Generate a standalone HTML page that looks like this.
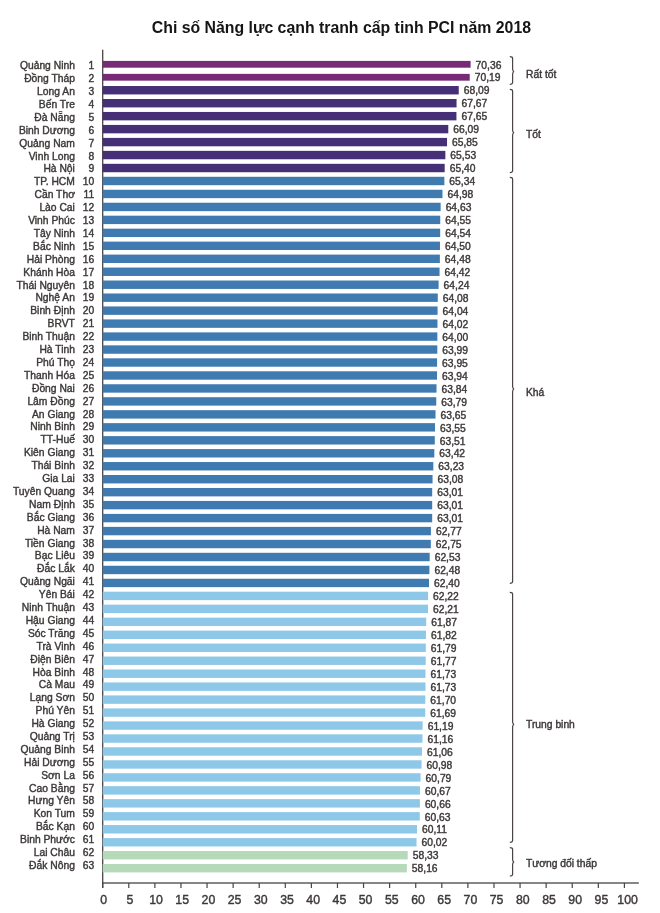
<!DOCTYPE html><html><head><meta charset="utf-8"><style>html,body{margin:0;padding:0;background:#fff;width:660px;height:913px;overflow:hidden}svg{display:block;filter:blur(0.5px)}text{font-family:"Liberation Sans",sans-serif}</style></head><body>
<svg width="660" height="913" viewBox="0 0 660 913">
<rect width="660" height="913" fill="#fff"/>
<text x="151.8" y="32.5" font-size="16" font-weight="bold" fill="#161414" textLength="379.2" lengthAdjust="spacingAndGlyphs">Chi số Năng lực cạnh tranh cấp tinh PCI năm 2018</text>
<rect x="102.05" y="49.7" width="1.3" height="838.30" fill="#4a4444"/>
<rect x="102.05" y="882.35" width="536.80" height="1.3" fill="#4a4444"/>
<rect x="102.7" y="60.90" width="367.91" height="6.8" fill="#772B76"/><rect x="102.7" y="73.87" width="367.02" height="6.8" fill="#772B76"/><rect x="102.7" y="86.03" width="356.04" height="8.4" fill="#452F76"/><rect x="102.7" y="99.00" width="353.85" height="8.4" fill="#452F76"/><rect x="102.7" y="111.96" width="353.74" height="8.4" fill="#452F76"/><rect x="102.7" y="124.93" width="345.58" height="8.4" fill="#452F76"/><rect x="102.7" y="137.90" width="344.33" height="8.4" fill="#452F76"/><rect x="102.7" y="150.86" width="342.66" height="8.4" fill="#452F76"/><rect x="102.7" y="163.83" width="341.98" height="8.4" fill="#452F76"/><rect x="102.7" y="176.79" width="341.66" height="8.4" fill="#3F7AB0"/><rect x="102.7" y="189.76" width="339.78" height="8.4" fill="#3F7AB0"/><rect x="102.7" y="202.73" width="337.95" height="8.4" fill="#3F7AB0"/><rect x="102.7" y="215.69" width="337.53" height="8.4" fill="#3F7AB0"/><rect x="102.7" y="228.66" width="337.48" height="8.4" fill="#3F7AB0"/><rect x="102.7" y="241.62" width="337.27" height="8.4" fill="#3F7AB0"/><rect x="102.7" y="254.59" width="337.17" height="8.4" fill="#3F7AB0"/><rect x="102.7" y="267.56" width="336.85" height="8.4" fill="#3F7AB0"/><rect x="102.7" y="280.52" width="335.91" height="8.4" fill="#3F7AB0"/><rect x="102.7" y="293.49" width="335.07" height="8.4" fill="#3F7AB0"/><rect x="102.7" y="306.45" width="334.87" height="8.4" fill="#3F7AB0"/><rect x="102.7" y="319.42" width="334.76" height="8.4" fill="#3F7AB0"/><rect x="102.7" y="332.39" width="334.66" height="8.4" fill="#3F7AB0"/><rect x="102.7" y="345.35" width="334.60" height="8.4" fill="#3F7AB0"/><rect x="102.7" y="358.32" width="334.39" height="8.4" fill="#3F7AB0"/><rect x="102.7" y="371.28" width="334.34" height="8.4" fill="#3F7AB0"/><rect x="102.7" y="384.25" width="333.82" height="8.4" fill="#3F7AB0"/><rect x="102.7" y="397.22" width="333.56" height="8.4" fill="#3F7AB0"/><rect x="102.7" y="410.18" width="332.83" height="8.4" fill="#3F7AB0"/><rect x="102.7" y="423.15" width="332.30" height="8.4" fill="#3F7AB0"/><rect x="102.7" y="436.11" width="332.09" height="8.4" fill="#3F7AB0"/><rect x="102.7" y="449.08" width="331.62" height="8.4" fill="#3F7AB0"/><rect x="102.7" y="462.05" width="330.63" height="8.4" fill="#3F7AB0"/><rect x="102.7" y="475.01" width="329.85" height="8.4" fill="#3F7AB0"/><rect x="102.7" y="487.98" width="329.48" height="8.4" fill="#3F7AB0"/><rect x="102.7" y="500.94" width="329.48" height="8.4" fill="#3F7AB0"/><rect x="102.7" y="513.91" width="329.48" height="8.4" fill="#3F7AB0"/><rect x="102.7" y="526.88" width="328.22" height="8.4" fill="#3F7AB0"/><rect x="102.7" y="539.84" width="328.12" height="8.4" fill="#3F7AB0"/><rect x="102.7" y="552.81" width="326.97" height="8.4" fill="#3F7AB0"/><rect x="102.7" y="565.77" width="326.71" height="8.4" fill="#3F7AB0"/><rect x="102.7" y="578.74" width="326.29" height="8.4" fill="#3F7AB0"/><rect x="102.7" y="591.71" width="325.35" height="8.4" fill="#8DC8E8"/><rect x="102.7" y="604.67" width="325.30" height="8.4" fill="#8DC8E8"/><rect x="102.7" y="617.64" width="323.52" height="8.4" fill="#8DC8E8"/><rect x="102.7" y="630.60" width="323.26" height="8.4" fill="#8DC8E8"/><rect x="102.7" y="643.57" width="323.10" height="8.4" fill="#8DC8E8"/><rect x="102.7" y="656.54" width="323.00" height="8.4" fill="#8DC8E8"/><rect x="102.7" y="669.50" width="322.79" height="8.4" fill="#8DC8E8"/><rect x="102.7" y="682.47" width="322.79" height="8.4" fill="#8DC8E8"/><rect x="102.7" y="695.43" width="322.63" height="8.4" fill="#8DC8E8"/><rect x="102.7" y="708.40" width="322.58" height="8.4" fill="#8DC8E8"/><rect x="102.7" y="721.37" width="319.96" height="8.4" fill="#8DC8E8"/><rect x="102.7" y="734.33" width="319.81" height="8.4" fill="#8DC8E8"/><rect x="102.7" y="747.30" width="319.28" height="8.4" fill="#8DC8E8"/><rect x="102.7" y="760.26" width="318.86" height="8.4" fill="#8DC8E8"/><rect x="102.7" y="773.23" width="317.87" height="8.4" fill="#8DC8E8"/><rect x="102.7" y="786.20" width="317.24" height="8.4" fill="#8DC8E8"/><rect x="102.7" y="799.16" width="317.19" height="8.4" fill="#8DC8E8"/><rect x="102.7" y="812.13" width="317.03" height="8.4" fill="#8DC8E8"/><rect x="102.7" y="825.09" width="314.32" height="8.4" fill="#8DC8E8"/><rect x="102.7" y="838.06" width="313.84" height="8.4" fill="#8DC8E8"/><rect x="102.7" y="851.03" width="305.01" height="8.4" fill="#B5D9B9"/><rect x="102.7" y="863.99" width="304.12" height="8.4" fill="#B5D9B9"/>
<g font-size="10.3" fill="#3d3838" stroke="#3d3838" stroke-width="0.4"><text x="74.9" y="69.30" text-anchor="end">Quảng Ninh</text><text x="94.2" y="69.30" text-anchor="end">1</text><text x="475.61" y="68.50">70,36</text><text x="74.9" y="82.20" text-anchor="end">Đồng Tháp</text><text x="94.2" y="82.20" text-anchor="end">2</text><text x="474.72" y="81.47">70,19</text><text x="74.9" y="95.10" text-anchor="end">Long An</text><text x="94.2" y="95.10" text-anchor="end">3</text><text x="463.74" y="94.43">68,09</text><text x="74.9" y="107.99" text-anchor="end">Bến Tre</text><text x="94.2" y="107.99" text-anchor="end">4</text><text x="461.55" y="107.40">67,67</text><text x="74.9" y="120.89" text-anchor="end">Đà Nẵng</text><text x="94.2" y="120.89" text-anchor="end">5</text><text x="461.44" y="120.36">67,65</text><text x="74.9" y="133.79" text-anchor="end">Binh Dương</text><text x="94.2" y="133.79" text-anchor="end">6</text><text x="453.28" y="133.33">66,09</text><text x="74.9" y="146.69" text-anchor="end">Quảng Nam</text><text x="94.2" y="146.69" text-anchor="end">7</text><text x="452.03" y="146.30">65,85</text><text x="74.9" y="159.59" text-anchor="end">Vinh Long</text><text x="94.2" y="159.59" text-anchor="end">8</text><text x="450.36" y="159.26">65,53</text><text x="74.9" y="172.48" text-anchor="end">Hà Nội</text><text x="94.2" y="172.48" text-anchor="end">9</text><text x="449.68" y="172.23">65,40</text><text x="74.9" y="185.38" text-anchor="end">TP. HCM</text><text x="94.2" y="185.38" text-anchor="end">10</text><text x="449.36" y="185.19">65,34</text><text x="74.9" y="198.28" text-anchor="end">Cần Thơ</text><text x="94.2" y="198.28" text-anchor="end">11</text><text x="447.48" y="198.16">64,98</text><text x="74.9" y="211.18" text-anchor="end">Lào Cai</text><text x="94.2" y="211.18" text-anchor="end">12</text><text x="445.65" y="211.13">64,63</text><text x="74.9" y="224.08" text-anchor="end">Vinh Phúc</text><text x="94.2" y="224.08" text-anchor="end">13</text><text x="445.23" y="224.09">64,55</text><text x="74.9" y="236.97" text-anchor="end">Tây Ninh</text><text x="94.2" y="236.97" text-anchor="end">14</text><text x="445.18" y="237.06">64,54</text><text x="74.9" y="249.87" text-anchor="end">Bắc Ninh</text><text x="94.2" y="249.87" text-anchor="end">15</text><text x="444.97" y="250.02">64,50</text><text x="74.9" y="262.77" text-anchor="end">Hải Phòng</text><text x="94.2" y="262.77" text-anchor="end">16</text><text x="444.87" y="262.99">64,48</text><text x="74.9" y="275.67" text-anchor="end">Khánh Hòa</text><text x="94.2" y="275.67" text-anchor="end">17</text><text x="444.55" y="275.96">64,42</text><text x="74.9" y="288.57" text-anchor="end">Thái Nguyên</text><text x="94.2" y="288.57" text-anchor="end">18</text><text x="443.61" y="288.92">64,24</text><text x="74.9" y="301.46" text-anchor="end">Nghệ An</text><text x="94.2" y="301.46" text-anchor="end">19</text><text x="442.77" y="301.89">64,08</text><text x="74.9" y="314.36" text-anchor="end">Binh Định</text><text x="94.2" y="314.36" text-anchor="end">20</text><text x="442.57" y="314.85">64,04</text><text x="74.9" y="327.26" text-anchor="end">BRVT</text><text x="94.2" y="327.26" text-anchor="end">21</text><text x="442.46" y="327.82">64,02</text><text x="74.9" y="340.16" text-anchor="end">Binh Thuận</text><text x="94.2" y="340.16" text-anchor="end">22</text><text x="442.36" y="340.79">64,00</text><text x="74.9" y="353.06" text-anchor="end">Hà Tinh</text><text x="94.2" y="353.06" text-anchor="end">23</text><text x="442.30" y="353.75">63,99</text><text x="74.9" y="365.95" text-anchor="end">Phú Thọ</text><text x="94.2" y="365.95" text-anchor="end">24</text><text x="442.09" y="366.72">63,95</text><text x="74.9" y="378.85" text-anchor="end">Thanh Hóa</text><text x="94.2" y="378.85" text-anchor="end">25</text><text x="442.04" y="379.68">63,94</text><text x="74.9" y="391.75" text-anchor="end">Đồng Nai</text><text x="94.2" y="391.75" text-anchor="end">26</text><text x="441.52" y="392.65">63,84</text><text x="74.9" y="404.65" text-anchor="end">Lâm Đồng</text><text x="94.2" y="404.65" text-anchor="end">27</text><text x="441.26" y="405.62">63,79</text><text x="74.9" y="417.55" text-anchor="end">An Giang</text><text x="94.2" y="417.55" text-anchor="end">28</text><text x="440.53" y="418.58">63,65</text><text x="74.9" y="430.44" text-anchor="end">Ninh Binh</text><text x="94.2" y="430.44" text-anchor="end">29</text><text x="440.00" y="431.55">63,55</text><text x="74.9" y="443.34" text-anchor="end">TT-Huế</text><text x="94.2" y="443.34" text-anchor="end">30</text><text x="439.79" y="444.51">63,51</text><text x="74.9" y="456.24" text-anchor="end">Kiên Giang</text><text x="94.2" y="456.24" text-anchor="end">31</text><text x="439.32" y="457.48">63,42</text><text x="74.9" y="469.14" text-anchor="end">Thái Binh</text><text x="94.2" y="469.14" text-anchor="end">32</text><text x="438.33" y="470.45">63,23</text><text x="74.9" y="482.04" text-anchor="end">Gia Lai</text><text x="94.2" y="482.04" text-anchor="end">33</text><text x="437.55" y="483.41">63,08</text><text x="74.9" y="494.93" text-anchor="end">Tuyên Quang</text><text x="94.2" y="494.93" text-anchor="end">34</text><text x="437.18" y="496.38">63,01</text><text x="74.9" y="507.83" text-anchor="end">Nam Định</text><text x="94.2" y="507.83" text-anchor="end">35</text><text x="437.18" y="509.34">63,01</text><text x="74.9" y="520.73" text-anchor="end">Bắc Giang</text><text x="94.2" y="520.73" text-anchor="end">36</text><text x="437.18" y="522.31">63,01</text><text x="74.9" y="533.63" text-anchor="end">Hà Nam</text><text x="94.2" y="533.63" text-anchor="end">37</text><text x="435.92" y="535.28">62,77</text><text x="74.9" y="546.53" text-anchor="end">Tiền Giang</text><text x="94.2" y="546.53" text-anchor="end">38</text><text x="435.82" y="548.24">62,75</text><text x="74.9" y="559.42" text-anchor="end">Bạc Liêu</text><text x="94.2" y="559.42" text-anchor="end">39</text><text x="434.67" y="561.21">62,53</text><text x="74.9" y="572.32" text-anchor="end">Đắc Lắk</text><text x="94.2" y="572.32" text-anchor="end">40</text><text x="434.41" y="574.17">62,48</text><text x="74.9" y="585.22" text-anchor="end">Quảng Ngãi</text><text x="94.2" y="585.22" text-anchor="end">41</text><text x="433.99" y="587.14">62,40</text><text x="74.9" y="598.12" text-anchor="end">Yên Bái</text><text x="94.2" y="598.12" text-anchor="end">42</text><text x="433.05" y="600.11">62,22</text><text x="74.9" y="611.02" text-anchor="end">Ninh Thuận</text><text x="94.2" y="611.02" text-anchor="end">43</text><text x="433.00" y="613.07">62,21</text><text x="74.9" y="623.91" text-anchor="end">Hậu Giang</text><text x="94.2" y="623.91" text-anchor="end">44</text><text x="431.22" y="626.04">61,87</text><text x="74.9" y="636.81" text-anchor="end">Sóc Trăng</text><text x="94.2" y="636.81" text-anchor="end">45</text><text x="430.96" y="639.00">61,82</text><text x="74.9" y="649.71" text-anchor="end">Trà Vinh</text><text x="94.2" y="649.71" text-anchor="end">46</text><text x="430.80" y="651.97">61,79</text><text x="74.9" y="662.61" text-anchor="end">Điện Biên</text><text x="94.2" y="662.61" text-anchor="end">47</text><text x="430.70" y="664.94">61,77</text><text x="74.9" y="675.51" text-anchor="end">Hòa Binh</text><text x="94.2" y="675.51" text-anchor="end">48</text><text x="430.49" y="677.90">61,73</text><text x="74.9" y="688.40" text-anchor="end">Cà Mau</text><text x="94.2" y="688.40" text-anchor="end">49</text><text x="430.49" y="690.87">61,73</text><text x="74.9" y="701.30" text-anchor="end">Lạng Sơn</text><text x="94.2" y="701.30" text-anchor="end">50</text><text x="430.33" y="703.83">61,70</text><text x="74.9" y="714.20" text-anchor="end">Phú Yên</text><text x="94.2" y="714.20" text-anchor="end">51</text><text x="430.28" y="716.80">61,69</text><text x="74.9" y="727.10" text-anchor="end">Hà Giang</text><text x="94.2" y="727.10" text-anchor="end">52</text><text x="427.66" y="729.77">61,19</text><text x="74.9" y="740.00" text-anchor="end">Quảng Trị</text><text x="94.2" y="740.00" text-anchor="end">53</text><text x="427.51" y="742.73">61,16</text><text x="74.9" y="752.89" text-anchor="end">Quảng Binh</text><text x="94.2" y="752.89" text-anchor="end">54</text><text x="426.98" y="755.70">61,06</text><text x="74.9" y="765.79" text-anchor="end">Hải Dương</text><text x="94.2" y="765.79" text-anchor="end">55</text><text x="426.56" y="768.66">60,98</text><text x="74.9" y="778.69" text-anchor="end">Sơn La</text><text x="94.2" y="778.69" text-anchor="end">56</text><text x="425.57" y="781.63">60,79</text><text x="74.9" y="791.59" text-anchor="end">Cao Bằng</text><text x="94.2" y="791.59" text-anchor="end">57</text><text x="424.94" y="794.60">60,67</text><text x="74.9" y="804.49" text-anchor="end">Hưng Yên</text><text x="94.2" y="804.49" text-anchor="end">58</text><text x="424.89" y="807.56">60,66</text><text x="74.9" y="817.38" text-anchor="end">Kon Tum</text><text x="94.2" y="817.38" text-anchor="end">59</text><text x="424.73" y="820.53">60,63</text><text x="74.9" y="830.28" text-anchor="end">Bắc Kạn</text><text x="94.2" y="830.28" text-anchor="end">60</text><text x="422.02" y="833.49">60,11</text><text x="74.9" y="843.18" text-anchor="end">Binh Phước</text><text x="94.2" y="843.18" text-anchor="end">61</text><text x="421.54" y="846.46">60,02</text><text x="74.9" y="856.08" text-anchor="end">Lai Châu</text><text x="94.2" y="856.08" text-anchor="end">62</text><text x="412.71" y="859.43">58,33</text><text x="74.9" y="868.98" text-anchor="end">Đắk Nông</text><text x="94.2" y="868.98" text-anchor="end">63</text><text x="411.82" y="872.39">58,16</text></g>
<rect x="102.10" y="883.00" width="1.2" height="5" fill="#4a4444"/><rect x="128.19" y="883.00" width="1.2" height="5" fill="#4a4444"/><rect x="154.27" y="883.00" width="1.2" height="5" fill="#4a4444"/><rect x="180.35" y="883.00" width="1.2" height="5" fill="#4a4444"/><rect x="206.44" y="883.00" width="1.2" height="5" fill="#4a4444"/><rect x="232.53" y="883.00" width="1.2" height="5" fill="#4a4444"/><rect x="258.61" y="883.00" width="1.2" height="5" fill="#4a4444"/><rect x="284.69" y="883.00" width="1.2" height="5" fill="#4a4444"/><rect x="310.78" y="883.00" width="1.2" height="5" fill="#4a4444"/><rect x="336.86" y="883.00" width="1.2" height="5" fill="#4a4444"/><rect x="362.95" y="883.00" width="1.2" height="5" fill="#4a4444"/><rect x="389.03" y="883.00" width="1.2" height="5" fill="#4a4444"/><rect x="415.12" y="883.00" width="1.2" height="5" fill="#4a4444"/><rect x="441.20" y="883.00" width="1.2" height="5" fill="#4a4444"/><rect x="467.29" y="883.00" width="1.2" height="5" fill="#4a4444"/><rect x="493.37" y="883.00" width="1.2" height="5" fill="#4a4444"/><rect x="519.46" y="883.00" width="1.2" height="5" fill="#4a4444"/><rect x="545.54" y="883.00" width="1.2" height="5" fill="#4a4444"/><rect x="571.63" y="883.00" width="1.2" height="5" fill="#4a4444"/><rect x="597.71" y="883.00" width="1.2" height="5" fill="#4a4444"/><rect x="623.80" y="883.00" width="1.2" height="5" fill="#4a4444"/>
<g font-size="12.3" fill="#3d3838" stroke="#3d3838" stroke-width="0.4"><text x="103.60" y="903.6" text-anchor="middle">0</text><text x="129.80" y="903.6" text-anchor="middle">5</text><text x="156.00" y="903.6" text-anchor="middle">10</text><text x="182.20" y="903.6" text-anchor="middle">15</text><text x="208.40" y="903.6" text-anchor="middle">20</text><text x="234.60" y="903.6" text-anchor="middle">25</text><text x="260.80" y="903.6" text-anchor="middle">30</text><text x="287.00" y="903.6" text-anchor="middle">35</text><text x="313.20" y="903.6" text-anchor="middle">40</text><text x="339.40" y="903.6" text-anchor="middle">45</text><text x="365.60" y="903.6" text-anchor="middle">50</text><text x="391.80" y="903.6" text-anchor="middle">55</text><text x="418.00" y="903.6" text-anchor="middle">60</text><text x="444.20" y="903.6" text-anchor="middle">65</text><text x="470.40" y="903.6" text-anchor="middle">70</text><text x="496.60" y="903.6" text-anchor="middle">75</text><text x="522.80" y="903.6" text-anchor="middle">80</text><text x="549.00" y="903.6" text-anchor="middle">85</text><text x="575.20" y="903.6" text-anchor="middle">90</text><text x="601.40" y="903.6" text-anchor="middle">95</text><text x="627.60" y="903.6" text-anchor="middle">100</text></g>
<path d="M509.80 56.60 Q512.60 56.60 512.60 58.40 V68.80 Q512.60 70.40 513.60 71.60 Q512.60 72.80 512.60 74.40 V82.60 Q512.60 84.40 509.80 84.40" fill="none" stroke="#4a4444" stroke-width="1.2"/><text x="526.0" y="77.80" font-size="10.3" fill="#3d3838" stroke="#3d3838" stroke-width="0.4">Rất tốt</text><path d="M509.80 89.40 Q512.60 89.40 512.60 91.20 V129.90 Q512.60 131.50 513.60 132.70 Q512.60 133.90 512.60 135.50 V170.80 Q512.60 172.60 509.80 172.60" fill="none" stroke="#4a4444" stroke-width="1.2"/><text x="526.0" y="137.80" font-size="10.3" fill="#3d3838" stroke="#3d3838" stroke-width="0.4">Tốt</text><path d="M509.80 177.40 Q512.60 177.40 512.60 179.20 V386.30 Q512.60 387.90 513.60 389.10 Q512.60 390.30 512.60 391.90 V581.50 Q512.60 583.30 509.80 583.30" fill="none" stroke="#4a4444" stroke-width="1.2"/><text x="526.0" y="396.00" font-size="10.3" fill="#3d3838" stroke="#3d3838" stroke-width="0.4">Khá</text><path d="M509.80 592.40 Q512.60 592.40 512.60 594.20 V721.50 Q512.60 723.10 513.60 724.30 Q512.60 725.50 512.60 727.10 V840.50 Q512.60 842.30 509.80 842.30" fill="none" stroke="#4a4444" stroke-width="1.2"/><text x="526.0" y="728.10" font-size="10.3" fill="#3d3838" stroke="#3d3838" stroke-width="0.4">Trung binh</text><path d="M509.80 847.70 Q512.60 847.70 512.60 849.50 V859.20 Q512.60 860.80 513.60 862.00 Q512.60 863.20 512.60 864.80 V874.20 Q512.60 876.00 509.80 876.00" fill="none" stroke="#4a4444" stroke-width="1.2"/><text x="526.0" y="866.70" font-size="10.3" fill="#3d3838" stroke="#3d3838" stroke-width="0.4">Tương đối thấp</text>
</svg></body></html>
